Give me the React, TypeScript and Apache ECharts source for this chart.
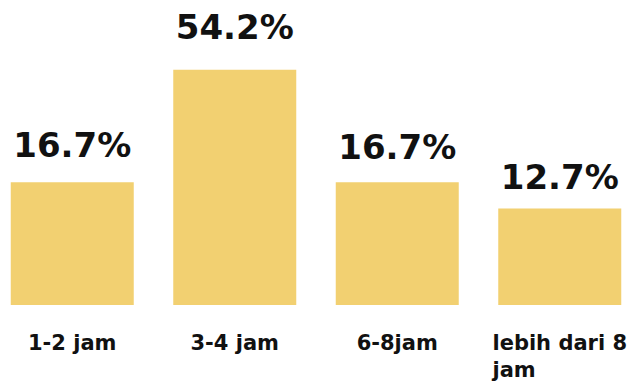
import React, { useEffect, useRef } from "react";
import * as echarts from "echarts";

const categories: string[] = ["1-2 jam", "3-4 jam", "6-8jam", "lebih dari 8 jam"];
const values: number[] = [16.7, 54.2, 16.7, 12.7];

// styling only: gap between each bar top and its value label
const labelGaps: number[] = [20, 26, 18, 15];

const BAR_COLOR = "#F2D071";
const FONT = "DejaVu Sans";

export default function App() {
  const ref = useRef<HTMLDivElement>(null);

  useEffect(() => {
    if (!ref.current) return;
    const chart = echarts.init(ref.current, null, { renderer: "svg" });
    chart.setOption({
      animation: false,
      backgroundColor: "#ffffff",
      grid: { left: 0, right: 0, top: 11, bottom: 77, containLabel: false },
      xAxis: {
        type: "category",
        data: categories,
        axisLine: { show: false },
        axisTick: { show: false },
        axisLabel: {
          interval: 0,
          margin: 24,
          color: "#111111",
          fontFamily: FONT,
          fontWeight: "bold",
          fontSize: 21,
          lineHeight: 27,
          formatter: (v: string) => {
            if (v.length > 12) {
              const i = v.lastIndexOf(" ");
              return `{l|${v.slice(0, i)}}\n{l|${v.slice(i + 1)}}`;
            }
            return v;
          },
          rich: {
            l: {
              align: "left",
              color: "#111111",
              fontFamily: FONT,
              fontWeight: "bold",
              fontSize: 21,
              lineHeight: 27,
            },
          },
        },
      },
      yAxis: {
        type: "log",
        min: 4.64,
        max: 100,
        show: false,
        splitLine: { show: false },
      },
      series: [
        {
          type: "bar",
          data: values.map((v, i) => ({
            value: v,
            label: { distance: labelGaps[i] },
          })),
          barWidth: 123,
          itemStyle: { color: BAR_COLOR },
          label: {
            show: true,
            position: "top",
            formatter: (p: any) => `${p.value}%`,
            color: "#111111",
            fontFamily: FONT,
            fontWeight: "bold",
            fontSize: 34,
          },
        },
      ],
    });
    return () => chart.dispose();
  }, []);

  return (
    <div
      ref={ref}
      style={{ position: "fixed", left: -9, top: 0, width: 650, height: 383 }}
    />
  );
}
